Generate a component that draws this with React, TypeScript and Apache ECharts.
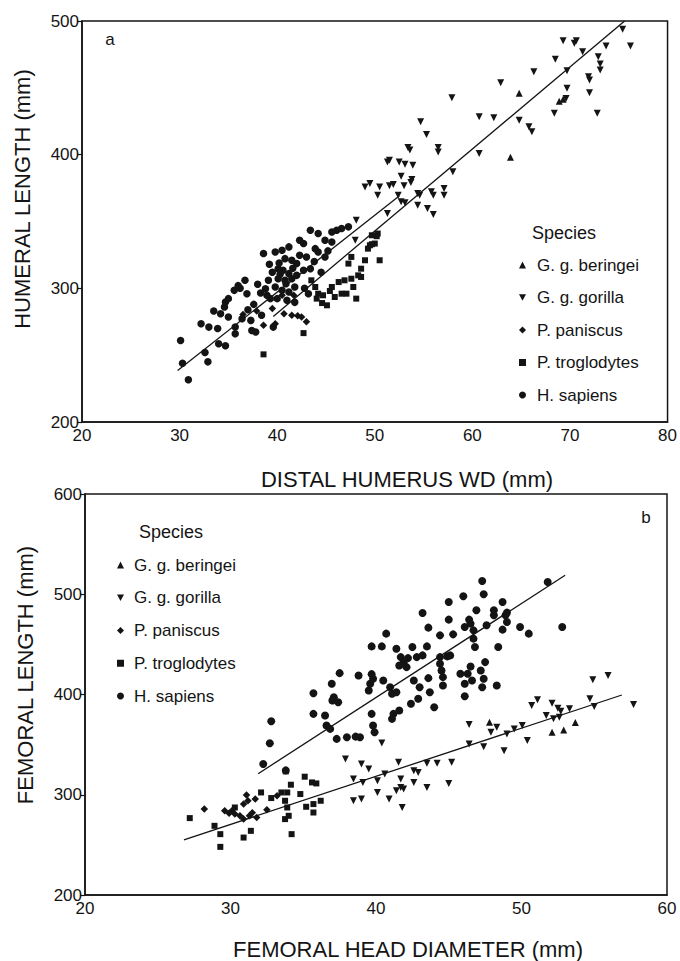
import React, { useEffect, useRef } from 'react';
import * as echarts from 'echarts';

const SPECIES = ['G. g. beringei', 'G. g. gorilla', 'P. paniscus', 'P. troglodytes', 'H. sapiens'];
const TITLES_A = { x: 'DISTAL HUMERUS WD (mm)', y: 'HUMERAL LENGTH (mm)', panel: 'a' };
const TITLES_B = { x: 'FEMORAL HEAD DIAMETER (mm)', y: 'FEMORAL LENGTH (mm)', panel: 'b' };
const AXIS_A = { xMin: 20, xMax: 80, xStep: 10, yMin: 200, yMax: 500, yStep: 100 };
const AXIS_B = { xMin: 20, xMax: 60, xStep: 10, yMin: 200, yMax: 600, yStep: 100 };

// ---- Panel a: distal humerus width vs humeral length ----
const aBeringei = [[64.8, 446], [63.9, 398], [68.9, 440], [69.3, 441.5]];
const aGorilla = [
  [75.4, 493.8], [76.2, 481.3], [69.3, 485.3], [70.45, 483.3], [70.65, 485.3], [73.7, 481.3], [71.3, 477],
  [72.9, 473.3], [73.1, 467.8], [73.1, 463.3], [68.5, 471.3], [66.3, 462], [69.7, 462.8], [71.9, 458.3],
  [72, 455.8], [62.9, 453.8], [69.7, 449.6], [69.6, 442], [72, 446.3], [72.8, 431], [68.4, 431],
  [60.7, 428.3], [62.2, 427.6], [64.8, 425.8], [65.8, 420.9], [66.1, 417.1], [57.9, 442.6], [54.7, 424.6],
  [55.3, 415.1], [60.7, 400.9], [53.4, 405.4], [53.6, 403.4], [56.5, 405.4], [56.5, 402], [58, 387.2],
  [51.3, 394.6], [51.5, 395.9], [52.5, 394.6], [53.1, 392.9], [53.9, 392.1], [52.7, 383.9], [53.8, 381.4],
  [49, 375.9], [49.5, 378.4], [50.5, 375.9], [51.5, 376.7], [51.9, 377.7], [53, 376.7], [53.7, 379.2],
  [50.3, 369.7], [52.4, 369.7], [54.4, 371], [54.6, 369.7], [55.8, 372.2], [56, 369.7], [57.1, 374.7],
  [57.1, 369.7], [52.7, 364.7], [53.1, 364], [54.4, 362.2], [55.4, 359.7], [56, 355.2], [51.3, 356],
  [48, 336], [48.1, 350.9]
];
const aPaniscus = [
  [38.6, 272.3], [39.8, 273.5], [41.7, 294.8], [40.5, 294.8], [37.9, 283], [39.5, 285], [40.7, 281],
  [42.1, 279.5], [36.5, 280.5], [41.5, 279.8], [42.5, 278.5], [43.0, 275]
];
const aTroglodytes = [
  [38.6, 250.6], [42.7, 266.5], [43.5, 306], [43.9, 301], [44.2, 296], [44.05, 292.3], [44.7, 294.8],
  [45.1, 287.3], [45.6, 301], [45.9, 293.5], [46.3, 304.7], [46.9, 306], [47.6, 307.2], [48.3, 309.7],
  [48.6, 308.5], [48.1, 292.3], [47.1, 296], [49, 321], [50.5, 321], [49.5, 332.2], [50, 333.5],
  [49.7, 339.7], [50.3, 341], [47.6, 323.5], [47.3, 318.5], [49.7, 333], [49.3, 329.7], [50.2, 339],
  [48.6, 314.7], [47.8, 301], [46.6, 296], [44.6, 289], [45.4, 298]
];
const aSapiens = [
  [30.1, 261], [30.3, 244], [30.9, 231.6], [32.6, 252], [32.9, 245], [32.2, 273.5], [33, 271], [33.9, 270],
  [34.0, 258.6], [34.7, 257], [34.2, 281], [35.0, 278.5], [34.7, 289.8], [35, 292.3], [35.6, 298.5],
  [36.7, 306], [36.9, 296], [35.7, 271], [35.7, 266], [36.4, 277.3], [37.3, 276], [37.4, 268.5],
  [37.8, 267.3], [38.6, 326], [38.4, 279.8], [38.8, 299.7], [39.1, 306], [39.3, 292.3], [39.8, 327.2],
  [40.5, 328.5], [41.2, 331], [39.6, 271], [40.1, 314.7], [40.6, 313.5], [41.2, 311], [41.5, 307.2],
  [40.8, 306], [40.1, 307.2], [39.8, 301], [40.5, 298.5], [41.2, 297.3], [41.8, 301], [41, 291], [40, 292.3],
  [38.95, 294.8], [42.3, 336], [42.7, 333.5], [43.4, 343.4], [44.2, 341], [43.9, 329.7], [44.2, 327.2],
  [44.9, 323.5], [42.3, 324.7], [41.5, 321], [40.8, 322.2], [43, 323.5], [43.4, 314.7], [42.7, 313.5],
  [42, 309.7], [44.9, 336], [45.6, 334.7], [45.6, 342.2], [46.1, 343.4], [46.6, 344.7], [47.3, 346],
  [37.0, 284], [36.2, 300], [33.5, 283], [39.2, 318], [42.0, 318.5], [44.5, 312], [38.0, 303],
  [42.8, 300], [43.2, 296], [41.8, 289.5], [34.6, 286], [36.0, 302], [37.6, 288], [40.3, 310.5],
  [40.9, 303.5], [41.6, 315], [39.5, 312], [40.2, 319], [38.3, 296.5], [43.8, 320], [45.2, 328]
];
const aLineHumans = [[29.8, 238.6], [52.5, 369]];
const aLineApes = [[39.6, 279], [75.6, 500]];

// ---- Panel b: femoral head diameter vs femoral length ----
const bBeringei = [[47.8, 372.3], [52.9, 364.7], [52.1, 362.3], [53.7, 372]];
const bGorilla = [
  [54.9, 414.7], [55.95, 419], [57.7, 390], [51.1, 394.7], [52.1, 391.3], [54.7, 395.7], [55, 388],
  [52.5, 386.3], [52.7, 383.3], [53.3, 385.7], [50.7, 389], [51.7, 379], [52.2, 375.7], [52.6, 377.3],
  [46.4, 370], [47.9, 362.3], [48.3, 367.3], [49, 360.7], [49.5, 365.7], [50.05, 369], [50.4, 354],
  [46.4, 350.7], [47.4, 348], [48.8, 344], [40.4, 351.7], [37.9, 335.7], [39, 330.7], [39.5, 325.7],
  [41.55, 332.3], [43.5, 331.3], [44.2, 331.3], [45.2, 332.3], [38.45, 315.7], [39.1, 312.3], [40.1, 314],
  [40.6, 320.7], [41.7, 315.7], [42.6, 324], [42.9, 322.3], [41.7, 307.3], [42.6, 312.3], [43.5, 307.3],
  [45, 311.3], [41.4, 304], [41.9, 305.7], [38.45, 294], [39, 295.7], [40.1, 302.3], [40.9, 295.7],
  [41.8, 287.3]
];
const bPaniscus = [
  [28.2, 285.7], [29.6, 284], [30.1, 284], [30.3, 280.7], [30.65, 279], [30.9, 275.7], [31.3, 279],
  [31.8, 277.3], [30.9, 290.7], [31.2, 294], [31.7, 295.7], [31.1, 299.7], [33.2, 299], [29.9, 281.5],
  [32.5, 285], [31.5, 282]
];
const bTroglodytes = [
  [27.2, 276.7], [28.9, 269], [29.3, 260.7], [29.3, 248], [30.9, 257.3], [34.2, 260.7], [33.8, 323.3],
  [34.15, 310], [35.1, 318], [35.6, 312.3], [35.9, 311.3], [33.9, 302.3], [33.75, 294], [33.9, 287.3],
  [34, 279], [33.75, 275.7], [34.8, 300.7], [35.2, 288], [35.7, 282.3], [35.7, 290.7], [36.2, 294],
  [31.4, 264], [32.1, 302.3], [33.5, 302.3], [30.3, 287.3], [32.8, 296.7]
];
const bSapiens = [
  [47.3, 513.3], [51.8, 512.3], [47.4, 500], [46, 498], [45, 492.3], [48.7, 492.3], [43.2, 481.3],
  [46.9, 484], [48.1, 484], [48.1, 479], [49, 481.7], [45, 474.7], [46.4, 474.7], [46.5, 470.7],
  [43.6, 466.7], [40.7, 460.7], [44.4, 459], [45.3, 460], [46.1, 467.3], [46.7, 464], [46.7, 455.7],
  [47.6, 469], [48.9, 479], [49, 472.3], [48.7, 464.7], [49.9, 467.3], [50.5, 460.7], [52.8, 467.3],
  [39.7, 448], [40.4, 448], [41.4, 445.7], [42.5, 447.3], [43.5, 448], [45.1, 439], [46.8, 447.3],
  [48.4, 447.3], [44.4, 437.3], [44.9, 438], [44.4, 430.7], [44.5, 424], [44.6, 417.3], [41.7, 437.3],
  [41.9, 432], [42.2, 436.3], [42.8, 437.3], [43.2, 439], [41.6, 429], [42.1, 427.3], [46.5, 428],
  [47.5, 432.3], [47.2, 424], [46.3, 420.7], [37.5, 421.3], [38.8, 419], [39.7, 420.3], [39.8, 415.7],
  [39.6, 410.7], [39.5, 404], [40.5, 414], [40.97, 407.3], [41.1, 400.7], [41.4, 402.3], [42.6, 414],
  [43.0, 407.3], [43.6, 416.3], [43.7, 402.3], [44.6, 409], [45.8, 420.7], [46.1, 410.7], [46.6, 414],
  [47.4, 415.7], [47.3, 407.3], [48.3, 409], [46.1, 398.3], [44.0, 387.3], [42.4, 390.7], [42.9, 395.7],
  [41.6, 384], [41.2, 380.7], [41.1, 375.7], [39.7, 380.7], [39.8, 369], [39.9, 362.3], [36.96, 410.7],
  [37.1, 397.3], [37.0, 394], [37.4, 392.3], [35.7, 401.3], [35.7, 380.7], [36.5, 379], [36.6, 369],
  [36.85, 365.7], [37.3, 355.7], [38, 357.3], [38.6, 358], [38.9, 357.3], [32.8, 373.3], [32.7, 351.3],
  [32.25, 330.7], [33.8, 324.3]
];
const bLineHumans = [[31.9, 321], [53, 519]];
const bLineApes = [[26.8, 255], [56.9, 399.5]];

const FONT = '"Liberation Sans", Arial, Helvetica, sans-serif';
const INK = '#141414';
const DOWN_TRI = 'path://M0,0L10,0L5,9Z';

function speciesSeries(idx: number, sets: number[][][], circleSize: number) {
  const symbols = ['triangle', 'triangle', 'diamond', 'rect', 'circle'];
  const rot = [0, 180, 0, 0, 0];
  const sizes = [7, 7, 7.5, 6, circleSize];
  return SPECIES.map((name, i) => ({
    type: 'scatter',
    name,
    xAxisIndex: idx,
    yAxisIndex: idx,
    data: sets[i],
    symbol: symbols[i],
    symbolRotate: rot[i],
    symbolSize: sizes[i],
    itemStyle: { color: INK, opacity: 1 },
    silent: true,
  }));
}

function fitLine(idx: number, data: number[][]) {
  return {
    type: 'line',
    xAxisIndex: idx,
    yAxisIndex: idx,
    data,
    symbol: 'none',
    lineStyle: { color: INK, width: 1.3 },
    silent: true,
  };
}

function axes(idx: number, ax: typeof AXIS_A) {
  const x = {
    type: 'value', gridIndex: idx, min: ax.xMin, max: ax.xMax, interval: ax.xStep,
    axisLine: { show: true, lineStyle: { color: INK, width: 1.5 } },
    axisTick: { show: false }, splitLine: { show: false },
    axisLabel: { color: INK, fontSize: 17, fontFamily: FONT, margin: 5, showMinLabel: true, showMaxLabel: true },
  };
  const y = {
    type: 'value', gridIndex: idx, min: ax.yMin, max: ax.yMax, interval: ax.yStep,
    axisLine: { show: true, lineStyle: { color: INK, width: 1.5 } },
    axisTick: { show: true, length: 5, lineStyle: { color: INK, width: 1.2 } },
    splitLine: { show: false },
    axisLabel: { color: INK, fontSize: 17, fontFamily: FONT, margin: 3, showMinLabel: true, showMaxLabel: true },
  };
  return { x, y };
}

function legendCfg(left: number, top: number, gap: number, textPad: number[]) {
  return {
    orient: 'vertical', left, top, padding: 0, itemGap: gap, itemWidth: 7, itemHeight: 7,
    selectedMode: false,
    textStyle: { color: INK, fontSize: 17, fontFamily: FONT, lineHeight: 17, padding: textPad },
    data: SPECIES.map((name, i) => ({
      name,
      icon: ['triangle', DOWN_TRI, 'diamond', 'rect', 'circle'][i],
    })),
  };
}

export default function App() {
  const ref = useRef<HTMLDivElement>(null);
  useEffect(() => {
    if (!ref.current) return;
    const chart = echarts.init(ref.current, undefined, { renderer: 'svg' });
    const a = axes(0, AXIS_A);
    const b = axes(1, AXIS_B);
    const titleStyle = { fill: INK, fontSize: 22, fontFamily: FONT };
    chart.setOption({
      animation: false,
      backgroundColor: '#ffffff',
      grid: [
        { left: 82, top: 21, width: 588, height: 401, show: true, borderColor: INK, borderWidth: 1.5 },
        { left: 85, top: 494, width: 582, height: 401, show: true, borderColor: INK, borderWidth: 1.5 },
      ],
      xAxis: [a.x, b.x],
      yAxis: [a.y, b.y],
      legend: [
        legendCfg(519, 256.5, 15.5, [0, 0, 0, 6]),
        legendCfg(117, 556.5, 15.75, [0, 0, 0, 5]),
      ],
      series: [
        ...speciesSeries(0, [aBeringei, aGorilla, aPaniscus, aTroglodytes, aSapiens], 7.5),
        fitLine(0, aLineHumans),
        fitLine(0, aLineApes),
        ...speciesSeries(1, [bBeringei, bGorilla, bPaniscus, bTroglodytes, bSapiens], 8),
        fitLine(1, bLineHumans),
        fitLine(1, bLineApes),
      ],
      graphic: [
        { type: 'text', x: 407, y: 479, style: { ...titleStyle, text: TITLES_A.x, align: 'center', verticalAlign: 'middle' } },
        { type: 'text', x: 22, y: 199, rotation: Math.PI / 2, style: { ...titleStyle, text: TITLES_A.y, align: 'center', verticalAlign: 'middle' } },
        { type: 'text', x: 408, y: 949, style: { ...titleStyle, text: TITLES_B.x, align: 'center', verticalAlign: 'middle' } },
        { type: 'text', x: 25, y: 675, rotation: Math.PI / 2, style: { ...titleStyle, text: TITLES_B.y, align: 'center', verticalAlign: 'middle' } },
        { type: 'text', x: 110, y: 39, style: { fill: INK, fontSize: 17, fontFamily: FONT, text: TITLES_A.panel, align: 'center', verticalAlign: 'middle' } },
        { type: 'text', x: 646, y: 517, style: { fill: INK, fontSize: 17, fontFamily: FONT, text: TITLES_B.panel, align: 'center', verticalAlign: 'middle' } },
        { type: 'text', x: 532, y: 233, style: { fill: INK, fontSize: 18, fontFamily: FONT, text: 'Species', align: 'left', verticalAlign: 'middle' } },
        { type: 'text', x: 139, y: 532, style: { fill: INK, fontSize: 18, fontFamily: FONT, text: 'Species', align: 'left', verticalAlign: 'middle' } },
      ],
    });
    return () => chart.dispose();
  }, []);
  return (
    <div
      ref={ref}
      style={{ position: 'fixed', left: 0, top: 0, width: 680, height: 961, background: '#fff' }}
    />
  );
}
